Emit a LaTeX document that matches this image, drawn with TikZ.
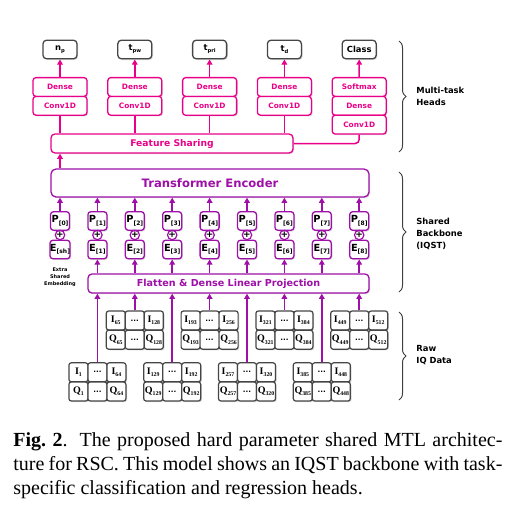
\documentclass[tikz,border=0pt]{standalone}
\usepackage{fontspec}
\setmainfont{Liberation Serif}
\setsansfont{DejaVu Sans}
\usepackage{tikz}
\usetikzlibrary{positioning}
\usetikzlibrary{arrows.meta,shadows,decorations.pathreplacing}

\definecolor{headpink}{RGB}{233,0,137}
\definecolor{backpurple}{RGB}{158,16,168}
\definecolor{cellgray}{RGB}{70,70,70}
\newcommand\lowsub[2][3]{\raisebox{-0.45ex}{\fontsize{#1}{#1}\selectfont #2}}

\begin{document}
\begin{tikzpicture}[x=0.5pt, y=-0.5pt,
    shade box/.style={drop shadow={shadow xshift=0.6pt, shadow yshift=-0.6pt, opacity=0.3}},
    outbox/.style={draw=cellgray, fill=white, line width=0.65pt, rounded corners=1.8pt,
        minimum width=17pt, minimum height=9.3pt, inner sep=0pt, shade box,
        font=\sffamily\bfseries\fontsize{4.2}{4}\selectfont},
    headbox/.style={draw=headpink, text=headpink, fill=white, line width=0.65pt,
        rounded corners=1.5pt, minimum width=27pt, minimum height=9.4pt, inner sep=0pt,
        shade box, font=\sffamily\bfseries\fontsize{3.7}{4}\selectfont},
    embbox/.style={draw=backpurple, fill=white, line width=0.65pt, rounded corners=1.5pt,
        minimum width=9.5pt, minimum height=9.3pt, inner sep=0pt, shade box,
        font=\sffamily\bfseries\fontsize{4.9}{5}\selectfont},
    iqcell/.style={draw=cellgray, fill=white, line width=0.6pt, rounded corners=1.2pt,
        minimum size=9.5pt, inner sep=0pt, shade box,
        font=\bfseries\fontsize{5}{5}\selectfont},
    dotcell/.style={iqcell, font=\sffamily\bfseries\fontsize{3.6}{4}\selectfont},
    pinkline/.style={draw=headpink, line width=0.75pt},
    pinkarrow/.style={pinkline, -{Triangle[length=2.6pt,width=2.8pt]}},
    purplearrow/.style={draw=backpurple, line width=0.75pt, -{Triangle[length=2.6pt,width=2.8pt]}},
    sidebrace/.style={draw=black!75, line width=0.5pt, decorate, decoration={brace, amplitude=3.5pt}},
    sidelabel/.style={anchor=west, align=left, inner sep=0pt,
        font=\sffamily\bfseries\fontsize{4.2}{6}\selectfont}]

\useasboundingbox (0,0) rectangle (517,525);

% Output targets
\foreach \i/\lab in {0/{n\lowsub[2.6]{p}}, 2/{t\lowsub[2.6]{pw}}, 4/{t\lowsub[2.6]{pri}}, 6/{t\lowsub[2.6]{d}}, 8/{Class}} {
    \node[outbox] (out\i) at ({60+37.4*\i}, 49.5) {\lab};
}

% Regression heads
\foreach \i in {0,2,4,6} {
    \node[headbox] (dense\i) at ({60+37.4*\i}, 87) {Dense};
    \node[headbox] (conv\i) at ({60+37.4*\i}, 105.8) {Conv1D};
}

% Classification head
\node[headbox] (soft8) at (359.2, 87) {Softmax};
\node[headbox] (dense8) at (359.2, 105.8) {Dense};
\node[headbox] (conv8) at (359.2, 124.6) {Conv1D};

% Shared blocks
\node[headbox, minimum width=121pt, minimum height=9.5pt, rounded corners=2pt,
    font=\sffamily\bfseries\fontsize{4.6}{5}\selectfont] (fs) at (172, 143.5) {Feature Sharing};
\node[embbox, minimum width=159pt, minimum height=14pt, rounded corners=2.5pt, text=backpurple,
    font=\sffamily\bfseries\fontsize{5.8}{6}\selectfont] (te) at (210, 183) {Transformer Encoder};
\node[embbox, minimum width=140.5pt, minimum height=9.5pt, rounded corners=2pt, text=backpurple,
    font=\sffamily\bfseries\fontsize{4.8}{5}\selectfont] (flat) at (228.5, 283.5) {Flatten \& Dense Linear Projection};

% Positional and patch embeddings
\foreach \i in {0,...,8} {
    \node[embbox] (p\i) at ({60+37.4*\i}, 221) {P\lowsub{[\i]}};
    \node[embbox] (e\i) at ({60+37.4*\i}, 249.5) {E\lowsub{[\ifnum\i=0 sh\else\i\fi]}};
    \node[circle, draw=backpurple, fill=white, line width=0.6pt, minimum size=4.3pt, inner sep=0pt,
        font=\sffamily\bfseries\fontsize{4.5}{4}\selectfont] (plus\i) at ({60+37.4*\i}, 235) {+};
    \draw[purplearrow] (p\i.north) -- (p\i.north |- te.south);
}
\node[align=center, inner sep=0pt, font=\sffamily\bfseries\fontsize{2.5}{3.5}\selectfont] (extra) at (60, 277.5)
    {Extra\\Shared\\Embedding};

% Raw IQ blocks
\foreach \k in {1,...,8} {
    \pgfmathsetmacro\cx{60+37.4*\k}
    \pgfmathsetmacro\yi{mod(\k,2)==0 ? 320.5 : 372.3}
    \pgfmathtruncatemacro\first{64*(\k-1)+1}
    \pgfmathtruncatemacro\last{64*\k}
    \node[iqcell] (ia\k) at (\cx-19, \yi) {I\lowsub[2.9]{\first}};
    \node[dotcell] (idots\k) at (\cx, \yi) {...};
    \node[iqcell] (ib\k) at (\cx+19, \yi) {I\lowsub[2.9]{\last}};
    \node[iqcell] (qa\k) at (\cx-19, \yi+19.2) {Q\lowsub[2.9]{\first}};
    \node[dotcell] (qdots\k) at (\cx, \yi+19.2) {...};
    \node[iqcell] (qb\k) at (\cx+19, \yi+19.2) {Q\lowsub[2.9]{\last}};
    \draw[purplearrow] (idots\k.north) -- (idots\k.north |- flat.south);
    \draw[purplearrow] (flat.north -| e\k) -- (e\k.south);
}

% Head connections
\draw[pinkarrow] (te.north -| p0) -- (fs.south -| p0);
\foreach \i in {0,2,4,6} {
    \draw[pinkline] (conv\i.south) -- (conv\i.south |- fs.north);
    \draw[pinkarrow] (dense\i.north) -- (out\i.south);
}
\draw[pinkline, rounded corners=2pt] (fs.east) -| (conv8.south);
\draw[pinkarrow] (soft8.north) -- (out8.south);

% Side braces
\draw[sidebrace] (399, 41) -- (399, 152);
\draw[sidebrace] (399, 172) -- (399, 292);
\draw[sidebrace] (399, 312) -- (399, 400);
\node[sidelabel] (lheads) at (416, 96.5) {Multi-task\\Heads};
\node[sidelabel] (lbackbone) at (416, 233.5) {Shared\\Backbone\\(IQST)};
\node[sidelabel] (lraw) at (416, 355) {Raw\\IQ Data};

% Caption
\node[anchor=north west, text width=244.5pt, align=justify, inner sep=0pt,
    font=\fontsize{10}{12}\selectfont] (caption) at (13, 432)
    {\textbf{Fig.~2}.\hspace{6pt}The proposed hard parameter shared MTL architec-\linebreak
    ture for RSC. This model shows an IQST backbone with task-\linebreak
    specific classification and regression heads.};

\end{tikzpicture}
\end{document}
